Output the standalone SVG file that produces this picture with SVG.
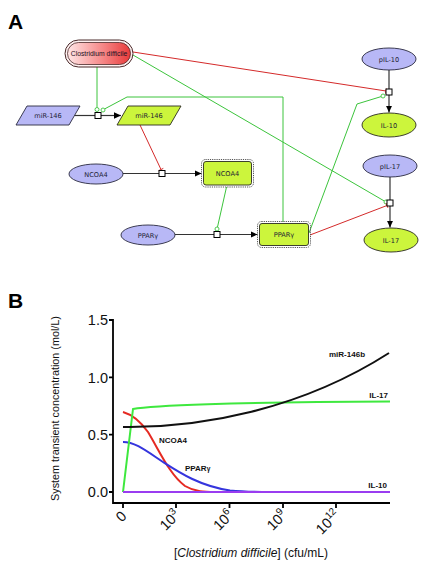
<svg xmlns="http://www.w3.org/2000/svg" width="441" height="571" viewBox="0 0 441 571">
<defs>
<linearGradient id="cdg" x1="0" y1="0" x2="1" y2="0">
<stop offset="0" stop-color="#ffe6e6"/>
<stop offset="0.6" stop-color="#f58080"/>
<stop offset="1" stop-color="#e83a3a"/>
</linearGradient>
<marker id="arr" viewBox="0 0 10 10" refX="10" refY="5" markerWidth="7" markerHeight="7" markerUnits="userSpaceOnUse" orient="auto">
<path d="M0,0.5 L10,5 L0,9.5 z" fill="#000"/>
</marker>
<style>
.lbl{font-family:"DejaVu Sans",sans-serif;font-size:6.6px;fill:#222233;text-anchor:middle}
.src{fill:#b8b8f6;stroke:#2a2a40;stroke-width:0.9}
.tgt{fill:#ccf53c;stroke:#2a2a20;stroke-width:0.9}
.dash{fill:none;stroke:#555;stroke-width:1;stroke-dasharray:1.2 1}
.sq{fill:#fff;stroke:#000;stroke-width:1}
.rx{fill:none;stroke:#333;stroke-width:1.2}
.g{fill:none;stroke:#3cc43c;stroke-width:1}
.r{fill:none;stroke:#d42a2a;stroke-width:1}
.gc{fill:#fff;stroke:#3cc43c;stroke-width:0.9}
.big{font-family:"Liberation Sans",Arial,sans-serif;font-weight:bold;font-size:21px;fill:#000}
.tick{font-family:"Liberation Sans",Arial,sans-serif;font-size:14.5px;fill:#111}
.ax{fill:none;stroke:#000;stroke-width:1.8}
.cl{font-family:"Liberation Sans",Arial,sans-serif;font-weight:bold;font-size:8px;fill:#111}
.curve{fill:none;stroke-width:2}
</style>
</defs>
<rect width="441" height="571" fill="#fff"/>
<text class="big" x="8" y="29">A</text>
<text class="big" x="8" y="308">B</text>

<g id="connectors">
<path class="rx" d="M75,115.5 L95,115.5"/>
<path class="rx" d="M101,115.5 L121,115.5" marker-end="url(#arr)"/>
<path class="g" d="M97,67 L97,107.5"/>
<circle class="gc" cx="97" cy="109.5" r="2"/>
<path class="g" d="M283,222 L283,97 L127,97 L104.7,108.9"/>
<circle class="gc" cx="103" cy="110" r="2"/>
<path class="g" d="M133,55 L384.3,201"/>
<circle class="gc" cx="386" cy="202" r="2"/>
<path class="r" d="M133,52 L386,91 M386.4,88.5 L385.6,93.5"/>
<path class="rx" d="M389,70 L389,89"/>
<path class="rx" d="M389,95 L389,112.5" marker-end="url(#arr)"/>
<path class="g" d="M309,233 L357,104 L381.1,96.6"/>
<circle class="gc" cx="383" cy="96" r="2"/>
<path class="r" d="M140,125 L161,169.5 M158.7,170.6 L163.3,168.4"/>
<path class="rx" d="M123,173.5 L159,173.5"/>
<path class="rx" d="M165,173.5 L201.5,173.5" marker-end="url(#arr)"/>
<path class="g" d="M226.5,187 L217.5,227"/>
<circle class="gc" cx="217" cy="229" r="2"/>
<path class="rx" d="M175,234.5 L214,234.5"/>
<path class="rx" d="M220,234.5 L257.5,234.5" marker-end="url(#arr)"/>
<path class="r" d="M310,235 L387,205.5 M386.1,203.2 L387.9,207.8"/>
<path class="rx" d="M390,177 L390,200"/>
<path class="rx" d="M390,206 L390,227.5" marker-end="url(#arr)"/>
<rect class="sq" x="95" y="112.5" width="6" height="6"/>
<rect class="sq" x="386" y="89" width="6" height="6"/>
<rect class="sq" x="159" y="170.5" width="6" height="6"/>
<rect class="sq" x="214" y="231.5" width="6" height="6"/>
<rect class="sq" x="387" y="200" width="6" height="6"/>
</g>

<g id="cdifficile">
<rect x="65" y="40" width="68" height="27" rx="13.5" fill="#fff2f2" stroke="#4a2a2a" stroke-width="1"/>
<rect x="67.5" y="42.5" width="63" height="22" rx="11" fill="url(#cdg)" stroke="#4a2a2a" stroke-width="0.8"/>
<text x="99" y="56" font-family="Liberation Sans, Arial, sans-serif" font-size="6.8" fill="#221122" text-anchor="middle">Clostridium difficile</text>
</g>
<g id="mir146-src">
<polygon class="src" points="27,106 80,106 69,125 16,125"/>
<text class="lbl" x="48" y="118">miR-146</text>
</g>
<g id="mir146-tgt">
<polygon class="tgt" points="128,106 181,106 170,125 117,125"/>
<text class="lbl" x="149" y="118">miR-146</text>
</g>
<g id="pil10">
<ellipse class="src" cx="389" cy="59" rx="27" ry="11"/>
<text class="lbl" x="389" y="61.5">pIL-10</text>
</g>
<g id="il10">
<ellipse class="tgt" cx="389" cy="125" rx="27" ry="12"/>
<text class="lbl" x="389" y="127.5">IL-10</text>
</g>
<g id="ncoa4-src">
<ellipse class="src" cx="96" cy="174" rx="27" ry="10"/>
<text class="lbl" x="96" y="176.5">NCOA4</text>
</g>
<g id="ncoa4-tgt">
<rect class="dash" x="201.5" y="159.5" width="52" height="27.5" rx="4"/>
<rect class="tgt" x="203.5" y="161.5" width="48" height="23.5" rx="2.5"/>
<text class="lbl" x="227.5" y="176">NCOA4</text>
</g>
<g id="pparg-src">
<ellipse class="src" cx="148" cy="235" rx="27" ry="10"/>
<text class="lbl" x="148" y="237.5">PPARγ</text>
</g>
<g id="pparg-tgt">
<rect class="dash" x="257.5" y="221.5" width="53" height="26" rx="4"/>
<rect class="tgt" x="259.5" y="223.5" width="49" height="22" rx="2.5"/>
<text class="lbl" x="284" y="237">PPARγ</text>
</g>
<g id="pil17">
<ellipse class="src" cx="390" cy="166" rx="27" ry="11"/>
<text class="lbl" x="390" y="168.5">pIL-17</text>
</g>
<g id="il17">
<ellipse class="tgt" cx="391" cy="240" rx="27" ry="12"/>
<text class="lbl" x="391" y="242.5">IL-17</text>
</g>

<g id="chart">
<path class="ax" d="M113,319 L113,503 L390,503"/>
<path class="ax" d="M109,320 L113,320 M109,377.3 L113,377.3 M109,434.7 L113,434.7 M109,492 L113,492"/>
<path class="ax" d="M123,503 L123,508 M176,503 L176,508 M229.5,503 L229.5,508 M283,503 L283,508 M336,503 L336,508"/>
<g class="tick" text-anchor="end">
<text x="108" y="325">1.5</text>
<text x="108" y="382.5">1.0</text>
<text x="108" y="440">0.5</text>
<text x="108" y="497">0.0</text>
</g>
<g class="tick" text-anchor="end">
<text transform="translate(127.5,517) rotate(-45)">0</text>
<text transform="translate(181,516) rotate(-45)">10<tspan font-size="10" dy="-6">3</tspan></text>
<text transform="translate(234.5,516) rotate(-45)">10<tspan font-size="10" dy="-6">6</tspan></text>
<text transform="translate(288,516) rotate(-45)">10<tspan font-size="10" dy="-6">9</tspan></text>
<text transform="translate(341,516) rotate(-45)">10<tspan font-size="10" dy="-6">12</tspan></text>
</g>
<text x="251" y="557" font-family="Liberation Sans, Arial, sans-serif" font-size="12" fill="#111" text-anchor="middle">[<tspan font-style="italic">Clostridium difficile</tspan>] (cfu/mL)</text>
<text transform="translate(59,408.5) rotate(-90)" font-family="Liberation Sans, Arial, sans-serif" font-size="10.8" fill="#111" text-anchor="middle">System transient concentration (mol/L)</text>

<path class="curve" stroke="#e52a22" d="M123,412 C130,414 138,418 148,432 C160,452 170,475 185,486 C195,492 205,492 215,492"/>
<path class="curve" stroke="#3535dd" d="M123,442 C135,442 145,450 163,462 C180,473 200,486 230,490.5 C245,492 255,492 270,492"/>
<path class="curve" stroke="#3ee83e" d="M123,492 L133,409 C150,406 230,402 390,401.5"/>
<path class="curve" stroke="#111" d="M123,427 C200,428 300,410 389,353"/>
<path class="curve" stroke="#9a3cf0" d="M123,492 L390,492"/>
<text class="cl" x="329" y="357">miR-146b</text>
<text class="cl" x="388" y="398" text-anchor="end">IL-17</text>
<text class="cl" x="159" y="443">NCOA4</text>
<text class="cl" x="185" y="471">PPAR<tspan font-size="6.5">γ</tspan></text>
<text class="cl" x="387" y="488" text-anchor="end">IL-10</text>
</g>
</svg>
